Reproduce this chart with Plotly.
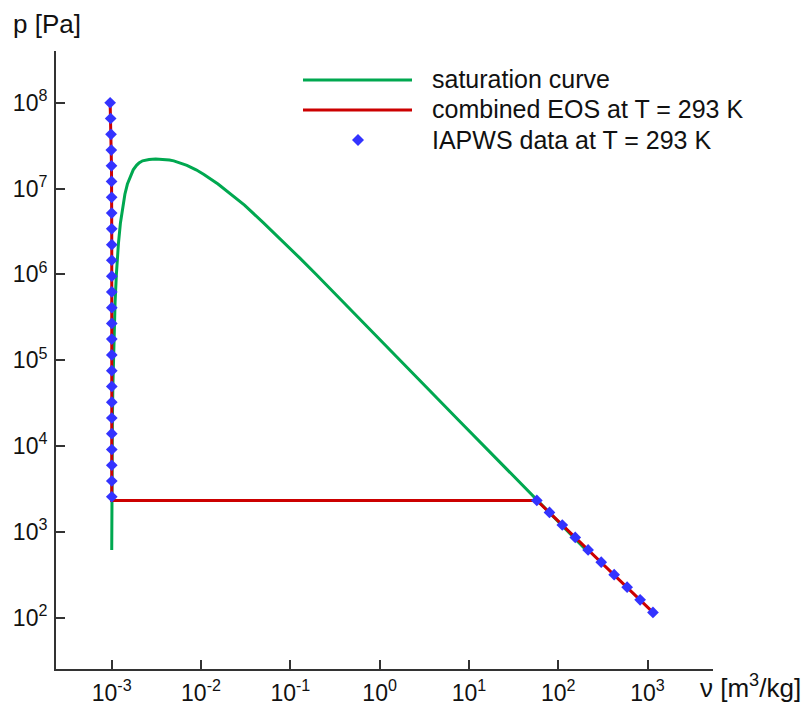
import plotly.graph_objects as go

# ---- data ----
# saturation curve (pressure in Pa, specific volume in m3/kg)
sat_p = [611.7, 1228.2, 2339.2, 7385, 19946, 47416, 101420, 198670, 476160,
         1002800, 1554900, 2319600, 3976200, 6416600, 8587900, 11284000,
         14601000, 16529000, 18666000, 19822000, 21044000, 21562000, 21826000]
sat_v_liq = [0.0010002, 0.0010003, 0.0010018, 0.0010079, 0.0010172, 0.0010291,
             0.0010435, 0.0010603, 0.0010905, 0.0011275, 0.0011565, 0.0011900,
             0.0012517, 0.0013324, 0.0014041, 0.0014988, 0.0016379, 0.0017411,
             0.0018959, 0.0020160, 0.0022152, 0.00243, 0.00262]
sat_v_vap = [205.99, 106.30, 57.76, 19.515, 7.6672, 3.4053, 1.6720, 0.89133,
             0.39248, 0.19384, 0.12721, 0.086094, 0.050072, 0.030686, 0.021659,
             0.015488, 0.010779, 0.0088120, 0.0069500, 0.0060089, 0.0049525,
             0.00443, 0.00382]
crit_p = 22064000
crit_v = 0.003106

# combined EOS isotherm at T = 293 K
eos_v = [0.000960, 0.000973, 0.000982, 0.000989, 0.000994, 0.000996, 0.000998,
         0.000999, 0.001000, 0.0010008, 0.0010018, 57.6, 1150]
eos_p = [1.0e8, 6.55e7, 4.29e7, 2.81e7, 1.84e7, 1.21e7, 7.90e6,
         5.18e6, 3.39e6, 2.22e6, 2320, 2320, 115]

# IAPWS data at T = 293 K
iapws_v = [0.000960, 0.000973, 0.000982, 0.000989, 0.000994, 0.000996, 0.000998,
           0.000999, 0.001000, 0.0010008, 0.0010011, 0.0010013, 0.0010015,
           0.0010016, 0.0010017, 0.0010017, 0.0010018, 0.0010018, 0.0010018,
           0.0010018, 0.0010018, 0.0010018, 0.0010018, 0.0010018, 0.0010018,
           0.0010018,
           57.6, 79.8, 111, 155, 216, 303, 423, 591, 826, 1150]
iapws_p = [1.0e8, 6.55e7, 4.29e7, 2.81e7, 1.84e7, 1.21e7, 7.90e6, 5.18e6,
           3.39e6, 2.22e6, 1.46e6, 9.53e5, 6.24e5, 4.09e5, 2.68e5, 1.76e5,
           1.15e5, 7.54e4, 4.94e4, 3.24e4, 2.12e4, 1.39e4, 9.10e3, 5.96e3,
           3.91e3, 2.56e3,
           2320, 1680, 1200, 860, 615, 442, 316, 226, 161, 115]

x_ticks = [1e-3, 1e-2, 1e-1, 1e0, 1e1, 1e2, 1e3]
x_ticktext = ["10<sup>-3</sup>", "10<sup>-2</sup>", "10<sup>-1</sup>", "10<sup>0</sup>",
              "10<sup>1</sup>", "10<sup>2</sup>", "10<sup>3</sup>"]
y_ticks = [1e2, 1e3, 1e4, 1e5, 1e6, 1e7, 1e8]
y_ticktext = ["10<sup>2</sup>", "10<sup>3</sup>", "10<sup>4</sup>", "10<sup>5</sup>",
              "10<sup>6</sup>", "10<sup>7</sup>", "10<sup>8</sup>"]

legend_labels = ["saturation curve", "combined EOS at T = 293 K", "IAPWS data at T = 293 K"]

GREEN = "rgb(0,168,80)"
RED = "rgb(204,0,0)"
BLUE = "rgb(51,51,255)"
AXIS = "#333333"
FONT = "Liberation Sans, Arial, sans-serif"

# saturation curve: liquid branch up to critical point, then vapour branch down
curve_v = sat_v_liq + [crit_v] + sat_v_vap[::-1]
curve_p = sat_p + [crit_p] + sat_p[::-1]

fig = go.Figure()
fig.add_trace(go.Scatter(x=curve_v, y=curve_p, mode="lines",
                         line=dict(color=GREEN, width=3), name=legend_labels[0],
                         showlegend=False))
fig.add_trace(go.Scatter(x=eos_v, y=eos_p, mode="lines",
                         line=dict(color=RED, width=3), name=legend_labels[1],
                         showlegend=False))
fig.add_trace(go.Scatter(x=iapws_v, y=iapws_p, mode="markers",
                         marker=dict(symbol="diamond", size=9, color=BLUE,
                                     line=dict(width=0)),
                         name=legend_labels[2], showlegend=False))

# plot-area geometry (pixels) for the hand-drawn legend
W, H = 806, 706
ml, mr, mt, mb = 56, 93, 51, 37
pw, ph = W - ml - mr, H - mt - mb


def px(xp):
    return (xp - ml) / pw


def py(yp):
    return (H - mb - yp) / ph


shapes = []
rows_y = [79, 109, 140]
shapes.append(dict(type="line", xref="paper", yref="paper", x0=px(303), x1=px(412),
                   y0=py(80), y1=py(80), line=dict(color=GREEN, width=3)))
shapes.append(dict(type="line", xref="paper", yref="paper", x0=px(303), x1=px(412),
                   y0=py(110), y1=py(110), line=dict(color=RED, width=3)))
shapes.append(dict(type="path", xref="paper", yref="paper", xsizemode="pixel",
                   ysizemode="pixel", xanchor=px(358), yanchor=py(140),
                   path="M0,6 L6,0 L0,-6 L-6,0 Z", fillcolor=BLUE,
                   line=dict(width=0)))

annotations = []
for lab, yy in zip(legend_labels, rows_y):
    annotations.append(dict(text=lab, xref="paper", yref="paper", x=px(430), y=py(yy),
                            xanchor="left", yanchor="middle", showarrow=False,
                            font=dict(family=FONT, size=25, color="#111111")))
annotations.append(dict(text="p [Pa]", xref="paper", yref="paper", x=px(11), y=py(24),
                        xanchor="left", yanchor="middle", showarrow=False,
                        font=dict(family=FONT, size=26, color="#111111")))
annotations.append(dict(text="ν [m<sup>3</sup>/kg]", xref="paper", yref="paper",
                        x=px(803), y=py(686), xanchor="right", yanchor="middle",
                        showarrow=False,
                        font=dict(family=FONT, size=26, color="#111111")))

axis_common = dict(type="log", showgrid=False, zeroline=False, showline=True,
                   linecolor=AXIS, linewidth=2, ticks="inside", ticklen=9,
                   tickwidth=1.5, tickcolor=AXIS, mirror=False, automargin=False,
                   tickfont=dict(family=FONT, size=23, color="#111111"))

fig.update_layout(
    width=W, height=H,
    margin=dict(l=ml, r=mr, t=mt, b=mb),
    paper_bgcolor="white", plot_bgcolor="white",
    xaxis=dict(range=[-3.624, 3.733], tickvals=x_ticks, ticktext=x_ticktext,
               ticklabelstandoff=2, **axis_common),
    yaxis=dict(range=[1.401, 8.603], tickvals=y_ticks, ticktext=y_ticktext,
               ticklabelstandoff=2, **axis_common),
    shapes=shapes, annotations=annotations, showlegend=False,
)

fig.write_html("out.html")
